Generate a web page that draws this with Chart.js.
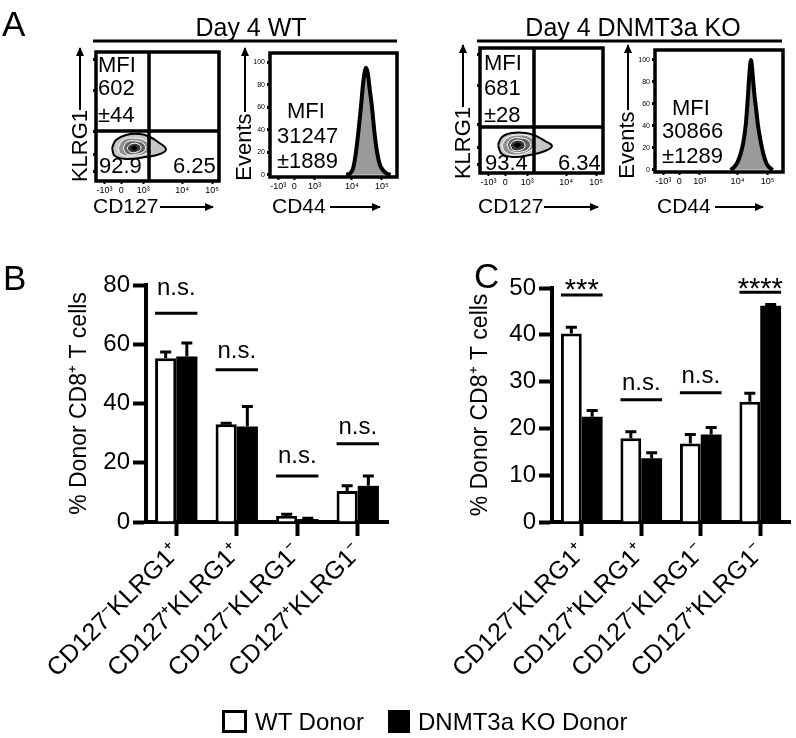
<!DOCTYPE html>
<html lang="en">
<head>
<meta charset="UTF-8">
<title>Day 4 WT vs DNMT3a KO donor CD8+ T cells</title>
<script src="https://cdn.jsdelivr.net/npm/chart.js"></script>
<style>
  html, body { margin: 0; padding: 0; background: #fff; }
  body { width: 796px; height: 738px; position: relative; overflow: hidden;
         font-family: "Liberation Sans", Arial, sans-serif; color: #000; }
  canvas { position: absolute; }
  .t { position: absolute; line-height: 1; white-space: nowrap; }
  .f22 { font-size: 22px; }
  .f21 { font-size: 21px; }
  .f24 { font-size: 24px; }
  .f25 { font-size: 25px; }
  .big { font-size: 35px; }
  .ctr { transform: translateX(-50%); }
  .rot { transform: translate(-50%, -50%) rotate(-90deg); }
  .box { position: absolute; box-sizing: border-box; }
</style>
</head>
<body>

<canvas id="cWT" width="140" height="165" style="left:90px;top:40px"></canvas>
<canvas id="hWT" width="160" height="165" style="left:245px;top:40px"></canvas>
<canvas id="cKO" width="140" height="165" style="left:474px;top:35px"></canvas>
<canvas id="hKO" width="166" height="165" style="left:630px;top:35px"></canvas>
<canvas id="panelB" width="400" height="450" style="left:0;top:250px"></canvas>
<canvas id="panelC" width="396" height="450" style="left:400px;top:250px"></canvas>

<svg width="796" height="738" style="position:absolute;left:0;top:0">
  <defs>
    <marker id="ah" markerWidth="9" markerHeight="8" refX="8" refY="4" orient="auto" markerUnits="userSpaceOnUse">
      <path d="M0,0 L9,4 L0,8 z" fill="#000"/>
    </marker>
  </defs>
  <g stroke="#000">
    <line x1="93" y1="41" x2="397" y2="41" stroke-width="3"/>
    <line x1="477" y1="41" x2="782" y2="41" stroke-width="3"/>
  </g>
  <g stroke="#000" stroke-width="2" marker-end="url(#ah)">
    <line x1="80" y1="110" x2="80" y2="48"/>
    <line x1="245" y1="112" x2="245" y2="48"/>
    <line x1="160" y1="207" x2="213" y2="207"/>
    <line x1="330" y1="207" x2="380" y2="207"/>
    <line x1="463" y1="107" x2="463" y2="45"/>
    <line x1="628" y1="110" x2="628" y2="45"/>
    <line x1="544" y1="207" x2="598" y2="207"/>
    <line x1="715" y1="207" x2="763" y2="207"/>
  </g>
</svg>

<div class="t big" style="left:2px;top:6px">A</div>
<div class="t big" style="left:3px;top:260px">B</div>
<div class="t big" style="left:474px;top:258px">C</div>

<div class="t f25 ctr" style="left:251px;top:15px">Day 4 WT</div>
<div class="t f25 ctr" style="left:633px;top:15px">Day 4 DNMT3a KO</div>

<div class="t f22" style="left:98px;top:54px">MFI</div>
<div class="t f22" style="left:98px;top:77px">602</div>
<div class="t f22" style="left:98px;top:104px">±44</div>
<div class="t f22" style="left:99px;top:155px">92.9</div>
<div class="t f22" style="left:173px;top:155px">6.25</div>
<div class="t f22" style="left:287px;top:100px">MFI</div>
<div class="t f22" style="left:277px;top:125px">31247</div>
<div class="t f22" style="left:277px;top:150px">±1889</div>
<div class="t f21" style="left:93px;top:195px">CD127</div>
<div class="t f21" style="left:272px;top:195px">CD44</div>
<div class="t f22 rot" style="left:80px;top:146px">KLRG1</div>
<div class="t f22 rot" style="left:244px;top:147px">Events</div>

<div class="t f22" style="left:484px;top:52px">MFI</div>
<div class="t f22" style="left:484px;top:77px">681</div>
<div class="t f22" style="left:484px;top:104px">±28</div>
<div class="t f22" style="left:485px;top:152px">93.4</div>
<div class="t f22" style="left:558px;top:152px">6.34</div>
<div class="t f22" style="left:672px;top:97px">MFI</div>
<div class="t f22" style="left:662px;top:120px">30866</div>
<div class="t f22" style="left:662px;top:145px">±1289</div>
<div class="t f21" style="left:478px;top:195px">CD127</div>
<div class="t f21" style="left:657px;top:195px">CD44</div>
<div class="t f22 rot" style="left:463px;top:143px">KLRG1</div>
<div class="t f22 rot" style="left:627px;top:145px">Events</div>

<div class="box" style="left:222px;top:710px;width:25px;height:23px;border:3px solid #000;background:#fff"></div>
<div class="t f24" style="left:255px;top:710px">WT Donor</div>
<div class="box" style="left:388px;top:710px;width:22px;height:23px;background:#000"></div>
<div class="t f24" style="left:418px;top:710px">DNMT3a KO Donor</div>

<script>
// ---------- panel A: flow plots (channel units 0-1000) ----------
const biexLabels = ['-10³', '0', '10³', '10⁴', '10⁵'];
const contourTicks = [70, 205, 385, 700, 945];
const histTicks = [65, 190, 350, 645, 880];
const histYTicks = [0, 20, 40, 60, 80, 100];

// contour rings, outer to inner, [CD127, KLRG1]
const ringWT1 = [[130,256],[163,318],[244,357],[358,364],[439,341],[504,302],[569,248],[520,209],[398,186],[252,171],[154,194]];
const ringWT2 = [[179,256],[220,318],[309,333],[407,310],[447,256],[398,209],[285,194],[203,209]];
const ringWT3 = [[220,256],[252,302],[325,310],[390,287],[398,240],[333,209],[252,209]];
const ringWT4 = [[252,256],[285,287],[341,287],[366,256],[333,225],[276,225]];
const ringWT5 = [[285,256],[309,271],[333,256],[309,240]];

const ringKO1 = [[146,224],[179,288],[260,320],[374,320],[455,296],[528,256],[585,216],[528,176],[407,144],[276,128],[179,152]];
const ringKO2 = [[179,224],[220,280],[309,304],[407,288],[447,232],[390,168],[276,144],[203,168]];
const ringKO3 = [[220,224],[252,272],[333,280],[398,256],[407,208],[341,168],[252,176]];
const ringKO4 = [[244,224],[276,256],[341,256],[366,216],[333,184],[268,184]];
const ringKO5 = [[276,224],[301,240],[333,224],[301,208]];

const gateWT = [431, 388];
const gateKO = [439, 368];

// CD44 histograms, [channel, % of max]
const histWT = [[600,0],[630,1],[655,6],[677,20],[695,37],[716,60],[735,83],[756,95],[770,90],[785,76],[803,60],[822,38],[843,20],[865,9],[890,4],[921,1],[950,0]];
const histKO = [[590,0],[615,2],[645,7],[670,15],[690,25],[710,42],[725,65],[738,88],[750,100],[762,88],[775,70],[790,55],[805,40],[825,26],[845,15],[870,6],[895,2],[920,0]];

// ---------- panels B and C ----------
const subsets = ['CD127⁻KLRG1⁺', 'CD127⁺KLRG1⁺', 'CD127⁻KLRG1⁻', 'CD127⁺KLRG1⁻'];

const wtB = [55.3, 33.0, 2.0, 10.5];
const wtSemB = [2.1, 0.3, 0.6, 1.7];
const koB = [55.9, 32.2, 1.0, 12.2];
const koSemB = [4.5, 6.8, 0.3, 3.3];
const sigB = ['n.s.', 'n.s.', 'n.s.', 'n.s.'];
const sigLineB = [70.5, 51.4, 15.5, 26.4];
const sigTextB = [76.5, 55.4, 19.9, 29.7];

const wtC = [40.3, 17.9, 16.8, 25.7];
const wtSemC = [1.3, 1.4, 1.9, 1.8];
const koC = [22.5, 13.6, 18.7, 46.2];
const koSemC = [1.3, 1.2, 1.5, 0.3];
const sigC = ['***', 'n.s.', 'n.s.', '****'];
const sigLineC = [48.5, 26.1, 27.6, 49.1];
const sigTextC = [47.7, 28.2, 29.7, 47.9];

Chart.defaults.font.family = '"Liberation Sans", Arial, sans-serif';
Chart.defaults.color = '#000';

const flowFrame = {
  id: 'flowFrame',
  afterDatasetsDraw(chart, args, opts) {
    const { ctx, chartArea: a, scales: { x, y } } = chart;
    ctx.save();
    ctx.strokeStyle = '#000';
    ctx.lineWidth = 3.5;
    ctx.beginPath();
    if (opts.gate) {
      const gx = x.getPixelForValue(opts.gate[0]);
      const gy = y.getPixelForValue(opts.gate[1]);
      ctx.moveTo(gx, a.top); ctx.lineTo(gx, a.bottom);
      ctx.moveTo(a.left, gy); ctx.lineTo(a.right, gy);
    }
    ctx.rect(a.left, a.top, a.right - a.left, a.bottom - a.top);
    ctx.stroke();
    ctx.restore();
  }
};

const barExtras = {
  id: 'barExtras',
  afterDatasetsDraw(chart, args, opts) {
    const { ctx, scales: { y } } = chart;
    ctx.save();
    ctx.strokeStyle = '#000';
    ctx.fillStyle = '#000';
    ctx.lineWidth = 3;
    chart.data.datasets.forEach((ds, di) => {
      chart.getDatasetMeta(di).data.forEach((bar, i) => {
        const top = y.getPixelForValue(ds.data[i] + ds.sem[i]);
        ctx.beginPath();
        ctx.moveTo(bar.x, bar.y);
        ctx.lineTo(bar.x, top);
        ctx.moveTo(bar.x - 5.5, top);
        ctx.lineTo(bar.x + 5.5, top);
        ctx.stroke();
      });
    });
    const wtBars = chart.getDatasetMeta(0).data;
    const koBars = chart.getDatasetMeta(1).data;
    ctx.textAlign = 'center';
    ctx.textBaseline = 'alphabetic';
    opts.labels.forEach((txt, i) => {
      const l = wtBars[i].x - wtBars[i].width / 2;
      const r = koBars[i].x + koBars[i].width / 2;
      const ly = y.getPixelForValue(opts.lines[i]);
      ctx.beginPath();
      ctx.moveTo(l, ly);
      ctx.lineTo(r, ly);
      ctx.stroke();
      const star = txt.indexOf('*') >= 0;
      ctx.font = (star ? '29px' : '24px') + ' "Liberation Sans", Arial, sans-serif';
      ctx.fillText(txt, (l + r) / 2, y.getPixelForValue(opts.textAt[i]));
    });
    ctx.restore();
  }
};

function toXY(arr) {
  return arr.map(p => ({ x: p[0], y: p[1] }));
}

const ringLook = [
  { bg: '#c6c6c6', bc: '#000', bw: 2 },
  { bg: '#909090', bc: '#fff', bw: 1 },
  { bg: '#626262', bc: '#fff', bw: 1 },
  { bg: '#383838', bc: '#fff', bw: 1 },
  { bg: '#000', bc: '#000', bw: 1 }
];

function ringSets(rings) {
  return rings.map((r, i) => ({
    data: toXY(r.concat([r[0]])),
    order: rings.length - i,
    fill: 'shape',
    backgroundColor: ringLook[i].bg,
    borderColor: ringLook[i].bc,
    borderWidth: ringLook[i].bw,
    tension: 0.45,
    pointRadius: 0
  }));
}

function histSet(h) {
  return [{
    data: toXY(h),
    fill: 'origin',
    backgroundColor: '#9a9a9a',
    borderColor: '#000',
    borderWidth: 4,
    cubicInterpolationMode: 'monotone',
    pointRadius: 0
  }];
}

function flowPanel(id, datasets, o) {
  new Chart(document.getElementById(id), {
    type: 'line',
    data: { datasets: datasets },
    options: {
      responsive: false,
      animation: false,
      devicePixelRatio: 1,
      layout: { autoPadding: false, padding: { top: o.padTop, right: o.padRight, left: 0, bottom: 0 } },
      plugins: { legend: { display: false }, tooltip: { enabled: false }, flowFrame: { gate: o.gate } },
      scales: {
        x: {
          type: 'linear', min: 0, max: 1000,
          afterBuildTicks: s => { s.ticks = o.xTicks.map(v => ({ value: v })); },
          ticks: { callback: (v, i) => biexLabels[i], font: { size: 9 }, padding: 1, maxRotation: 0, autoSkip: false },
          grid: { drawOnChartArea: false, tickLength: 3, tickWidth: 2, tickColor: '#000' },
          border: { display: false },
          afterFit: s => { s.height = o.xH; }
        },
        y: {
          type: 'linear', min: o.yMin, max: o.yMax,
          afterBuildTicks: s => { s.ticks = o.yTicks.map(v => ({ value: v })); },
          ticks: { display: o.yLabels, callback: v => String(v), font: { size: 7 }, padding: 2, autoSkip: false },
          grid: { drawOnChartArea: false, tickLength: 3, tickWidth: 3, tickColor: '#000' },
          border: { display: false },
          afterFit: s => { s.width = o.yW; }
        }
      }
    },
    plugins: [flowFrame]
  });
}

flowPanel('cWT', ringSets([ringWT1, ringWT2, ringWT3, ringWT4, ringWT5]),
  { padTop: 12, padRight: 11, xH: 24, yW: 6, yMin: 0, yMax: 1000, gate: gateWT,
    xTicks: contourTicks, yTicks: contourTicks, yLabels: false });
flowPanel('hWT', histSet(histWT),
  { padTop: 13, padRight: 8, xH: 28, yW: 25, yMin: -2, yMax: 108, gate: null,
    xTicks: histTicks, yTicks: histYTicks, yLabels: true });
flowPanel('cKO', ringSets([ringKO1, ringKO2, ringKO3, ringKO4, ringKO5]),
  { padTop: 13, padRight: 11, xH: 27, yW: 6, yMin: 0, yMax: 1000, gate: gateKO,
    xTicks: contourTicks, yTicks: contourTicks, yLabels: false });
flowPanel('hKO', histSet(histKO),
  { padTop: 15, padRight: 13, xH: 28, yW: 25, yMin: -2, yMax: 109, gate: null,
    xTicks: histTicks, yTicks: histYTicks, yLabels: true });

function barPanel(id, wt, wtSem, ko, koSem, yMax, yStep, sig, o) {
  new Chart(document.getElementById(id), {
    type: 'bar',
    data: {
      labels: subsets,
      datasets: [
        { label: 'WT Donor', data: wt, sem: wtSem, backgroundColor: '#fff', borderColor: '#000', borderWidth: 3 },
        { label: 'DNMT3a KO Donor', data: ko, sem: koSem, backgroundColor: '#000', borderColor: '#000', borderWidth: 0 }
      ]
    },
    options: {
      responsive: false,
      animation: false,
      devicePixelRatio: 1,
      categoryPercentage: 0.7,
      barPercentage: 1,
      layout: { autoPadding: false, padding: { top: o.padTop, right: o.padRight, left: 0, bottom: 0 } },
      plugins: { legend: { display: false }, tooltip: { enabled: false }, barExtras: sig },
      scales: {
        x: {
          offset: true,
          grid: { offset: false, drawOnChartArea: false, tickLength: 14, tickWidth: 4, tickColor: '#000' },
          border: { color: '#000', width: 4 },
          ticks: { minRotation: 45, maxRotation: 45, autoSkip: false, padding: 2, font: { size: 25 } },
          afterFit: s => { s.height = 178; }
        },
        y: {
          min: 0, max: yMax,
          ticks: { stepSize: yStep, padding: 3, font: { size: 24 } },
          grid: { drawOnChartArea: false, tickLength: 13, tickWidth: 4, tickColor: '#000' },
          border: { color: '#000', width: 4 },
          title: { display: true, text: '% Donor CD8⁺ T cells', font: { size: 23 }, padding: { top: o.titlePad, bottom: 0 } },
          afterFit: s => { s.width = o.axisW; }
        }
      }
    },
    plugins: [barExtras]
  });
}

barPanel('panelB', wtB, wtSemB, koB, koSemB, 80, 20,
  { labels: sigB, lines: sigLineB, textAt: sigTextB },
  { padTop: 35, padRight: 12, axisW: 146, titlePad: 66 });
barPanel('panelC', wtC, wtSemC, koC, koSemC, 50, 10,
  { labels: sigC, lines: sigLineC, textAt: sigTextC },
  { padTop: 38, padRight: 6, axisW: 152, titlePad: 67 });
</script>
</body>
</html>
